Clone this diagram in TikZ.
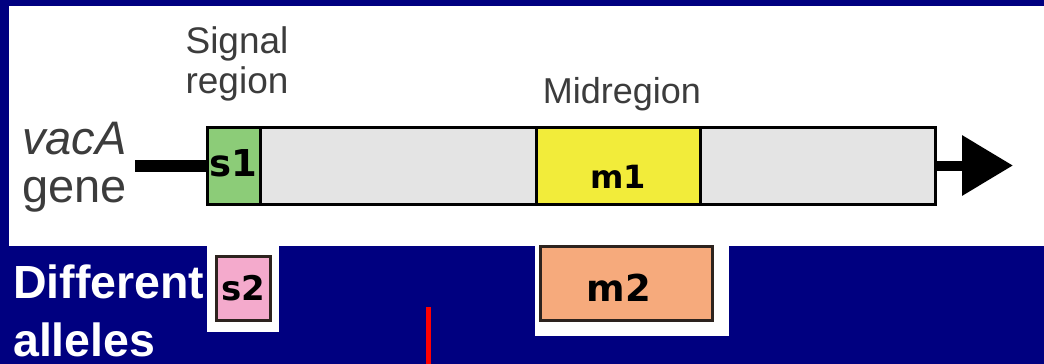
\documentclass[tikz,border=0pt]{standalone}
\usepackage{fontspec}
\setmainfont{Liberation Sans}
\newfontfamily\boxfont{DejaVu Sans}
\usetikzlibrary{arrows.meta}
\definecolor{navy}{RGB}{0,0,128}
\definecolor{barfill}{RGB}{228,228,228}
\definecolor{sgreen}{RGB}{140,204,120}
\definecolor{myellow}{RGB}{242,236,58}
\definecolor{mpeach}{RGB}{246,170,124}
\definecolor{spink}{RGB}{244,170,204}
\definecolor{labgray}{RGB}{60,60,60}
\definecolor{boxedge}{RGB}{45,35,30}
\tikzset{
  genebox/.style={draw=black, line width=3pt, rectangle, inner sep=0pt, outer sep=0pt, anchor=north west},
  allelebox/.style={draw=boxedge, line width=3pt, rectangle, inner sep=0pt, outer sep=0pt, anchor=north west},
  boxlbl/.style={inner sep=0pt, font=\boxfont\bfseries\fontsize{#1}{#1}\selectfont, text=black},
  graylbl/.style={inner sep=0pt, text=labgray, align=center, font=\fontsize{#1}{#1}\selectfont},
  grayital/.style={inner sep=0pt, text=labgray, font=\itshape\fontsize{#1}{#1}\selectfont},
  whitelbl/.style={inner sep=0pt, text=white, anchor=base west, font=\bfseries\fontsize{46.5}{46.5}\selectfont}
}
\begin{document}
\begin{tikzpicture}[x=1pt,y=-1pt]
\fill[navy] (0,0) rectangle (1044,364);
\useasboundingbox (0,0) rectangle (1044,364);
% white panels
\fill[white] (9,6) rectangle (1044,246);
\fill[white] (207,246) rectangle (279,332);
\fill[white] (535,246) rectangle (729,336);
% gene bar
\coordinate (lstart) at (135,165.5);
\coordinate (tip) at (1013,165.5);
\node[genebox, fill=barfill, minimum width=728pt, minimum height=77pt] (bar) at (207,127) {};
\draw[line width=12pt] (lstart) -- (bar.west);
\draw[line width=10pt, -{Triangle[length=51pt,width=58pt]}] (bar.east) -- (tip);
\node[genebox, fill=sgreen, minimum width=53pt, minimum height=77pt] (s1) at (207,127) {};
\node[genebox, fill=myellow, minimum width=164pt, minimum height=77pt] (m1) at (536,127) {};
\node[boxlbl=37] (s1t) at (233.5,163) {s1};
\node[boxlbl=32] (m1t) at (618,177) {m1};
% labels
\node[graylbl=37, anchor=base] (sig) at (237,53) {Signal};
\node[graylbl=37, anchor=base] (reg) at (237,93) {region};
\node[graylbl=36, anchor=base] (mid) at (622,103) {Midregion};
\node[grayital=47, anchor=base west] (vaca) at (22,154) {vacA};
\node[graylbl=47, anchor=base west] (gene) at (22,202) {gene};
% alleles
\node[allelebox, fill=spink, minimum width=54pt, minimum height=64pt] (s2) at (216,256) {};
\node[boxlbl=34] (s2t) at (s2.center) {s2};
\node[allelebox, fill=mpeach, minimum width=172pt, minimum height=74pt] (m2) at (540,246) {};
\node[boxlbl=37] (m2t) at (619,288) {m2};
\node[whitelbl] (diff) at (13,298) {Different};
\node[whitelbl] (all) at (13,356) {alleles};
% red mark
\fill[red] (426,307) rectangle (431,364);
\end{tikzpicture}
\end{document}
